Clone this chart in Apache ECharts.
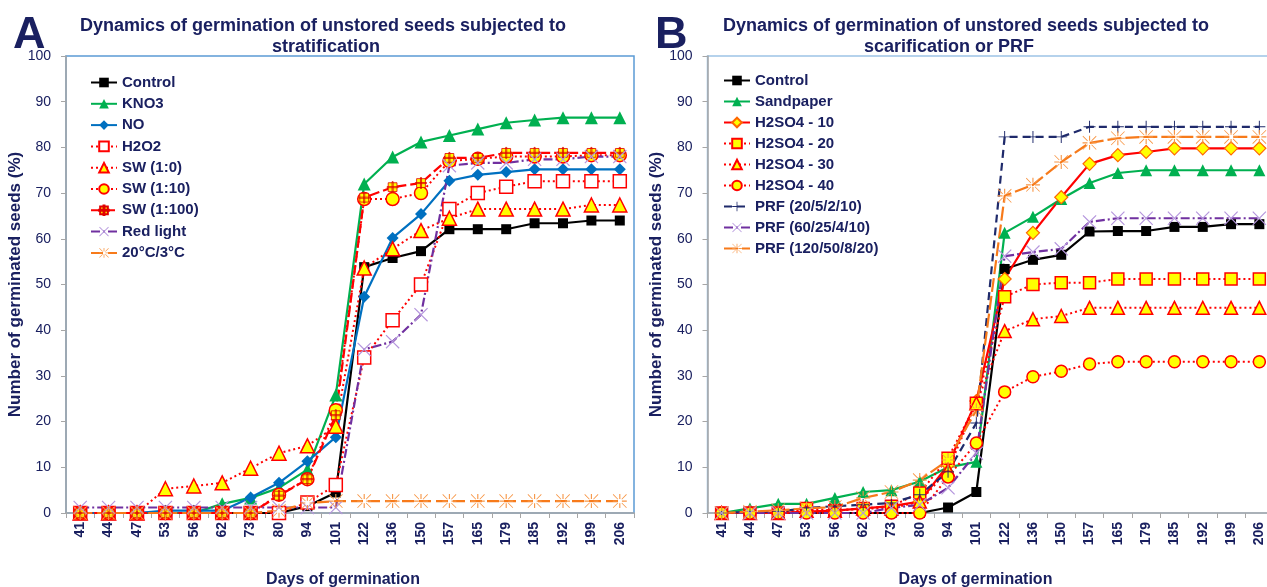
<!DOCTYPE html>
<html><head><meta charset="utf-8">
<script src="https://cdn.jsdelivr.net/npm/echarts@6/dist/echarts.min.js"></script>
<style>html,body{margin:0;padding:0;background:#fff;overflow:hidden}#c{width:1267px;height:587px}</style>
</head><body><div id="c"></div>
<script>
// ---------- data ----------
const categories = ['41','44','47','53','56','62','73','80','94','101','122','136','150','157','165','179','185','192','199','206'];
const yTicks = [0,10,20,30,40,50,60,70,80,90,100];

// Panel A
const A_control = [0,0,0,0,0,0,0,0,1.5,4.5,53.8,55.8,57.3,62.1,62.1,62.1,63.4,63.4,64,64];
const A_kno3    = [0,0,0,0,0,2,3.3,5.5,9.5,25.8,72,77.9,81.2,82.6,84,85.4,86,86.5,86.5,86.5];
const A_no      = [0,0,0,0.5,0.5,0.5,3.4,6.6,11.3,16.6,47.3,60.2,65.4,72.7,74,74.6,75.2,75.2,75.2,75.2];
const A_h2o2    = [0,0,0,0,0,0,0,0,2.3,6.1,34,42.2,50,66.5,70,71.4,72.6,72.6,72.6,72.6];
const A_sw1_0   = [0,0,0,5.3,5.9,6.6,9.8,13.1,14.7,19,53.6,57.8,61.8,64.5,66.5,66.5,66.5,66.5,67.4,67.4];
const A_sw1_10  = [0,0,0,0,0,0,0,4,7.4,22.5,68.7,68.7,70,77,77.5,78,78,78,78.3,78.3];
const A_sw1_100 = [0,0,0,0,0,0,0,3.8,7.4,21.4,69,71.3,72.2,77.7,77.7,78.8,78.8,78.8,78.8,78.8];
const A_red     = [1.2,1.2,1.2,1.2,1.2,1.2,1.2,1.2,1.2,1.2,35.8,37.5,43.4,76,76.6,76.6,77.4,77.4,78,78];
const A_temp    = [0,0,0,0,0,0,0,0.5,2.2,2.6,2.6,2.6,2.6,2.6,2.6,2.6,2.6,2.6,2.6,2.6];

// Panel B
const B_control = [0,0,0,0,0,0,0,0,1.2,4.6,53.4,55.4,56.5,61.6,61.7,61.7,62.6,62.6,63.2,63.2];
const B_sand    = [0,1,2,2,3.3,4.6,5,6.9,10,11.2,61.3,64.8,68.7,72.2,74.4,75,75,75,75,75];
const B_h10     = [0,0,0,0.3,0.5,1,1.5,2.5,10.5,24.5,51.2,61.3,69.1,76.4,78.3,79,79.8,79.8,79.8,79.8];
const B_h20     = [0,0,0,1,0.5,1,1.5,4.4,12,24,47.3,50,50.4,50.4,51.2,51.2,51.2,51.2,51.2,51.2];
const B_h30     = [0,0,0,0.5,0.5,1,1,2.5,9.4,24,39.8,42.4,43.1,44.9,44.9,44.9,44.9,44.9,44.9,44.9];
const B_h40     = [0,0,0,0,0,0,0,0,7.9,15.3,26.5,29.8,31,32.6,33.1,33.1,33.1,33.1,33.1,33.1];
const B_prf1    = [0,0.3,0.3,1.1,1.5,1.8,2.2,4,9,19.7,82.3,82.3,82.3,84.5,84.5,84.5,84.5,84.5,84.5,84.5];
const B_prf2    = [0,0,0,0,0,0,1.1,1.8,5.5,13.1,56.2,57.1,57.8,63.7,64.5,64.5,64.5,64.5,64.5,64.5];
const B_prf3    = [0,0.3,0.6,1,1.3,3.3,4.6,7.2,11.6,22.5,69.4,71.8,76.8,81,82,82.3,82.3,82.3,82.3,82.3];

// ---------- styles ----------
const NAVY = '#1a2060';
const FONT = '"Liberation Sans", Arial, sans-serif';
const P_PLUS_THIN = 'path://M4.6,0H5.4V4.6H10V5.4H5.4V10H4.6V5.4H0V4.6H4.6Z';
const P_X = 'path://M0,0.6L0.6,0L5,4.4L9.4,0L10,0.6L5.6,5L10,9.4L9.4,10L5,5.6L0.6,10L0,9.4L4.4,5Z';
const P_STAR = 'path://M4.6,0H5.4V3.5H4.6Z M4.6,6.5H5.4V10H4.6Z M0,4.6H3.5V5.4H0Z M6.5,4.6H10V5.4H6.5Z M0.4,0L3.8,3.4L3.4,3.8L0,0.4Z M6.2,6.6L6.6,6.2L10,9.6L9.6,10Z M9.6,0L10,0.4L6.6,3.8L6.2,3.4Z M0,9.6L3.4,6.2L3.8,6.6L0.4,10Z';
const P_SQPLUS = 'path://M1,1H9V9H1Z M4.5,0H5.5V10H4.5Z M0,4.5H10V5.5H0Z';

function ser(name, data, gi, o) {
  return Object.assign({
    name, type:'line', data, xAxisIndex:gi, yAxisIndex:gi,
    showSymbol:true, animation:false, z: 2,
    emphasis:{disabled:true}
  }, o);
}
const solid = (c,w)=>({color:c, width:w||2.2, type:'solid'});

const series = [
  // ---- Panel A ----
  ser('Control', A_control, 0, {symbol:'rect', symbolSize:10, lineStyle:solid('#000'), itemStyle:{color:'#000'}}),
  ser('KNO3', A_kno3, 0, {symbol:'triangle', symbolSize:13, lineStyle:solid('#00b050'), itemStyle:{color:'#00b050'}}),
  ser('NO', A_no, 0, {symbol:'diamond', symbolSize:12, lineStyle:solid('#0070c0'), itemStyle:{color:'#0070c0'}}),
  ser('H2O2', A_h2o2, 0, {symbol:'rect', symbolSize:13, lineStyle:{color:'#ff0000',width:2,type:[2,3]}, itemStyle:{color:'#ffffff',borderColor:'#ff0000',borderWidth:1.5}}),
  ser('SW (1:0)', A_sw1_0, 0, {symbol:'triangle', symbolSize:14, lineStyle:{color:'#ff0000',width:2,type:[2,3]}, itemStyle:{color:'#ffff00',borderColor:'#ff0000',borderWidth:1.5}}),
  ser('SW (1:10)', A_sw1_10, 0, {symbol:'circle', symbolSize:13, lineStyle:{color:'#ff0000',width:2,type:[2,3]}, itemStyle:{color:'#ffff00',borderColor:'#ff0000',borderWidth:1.5}}),
  ser('SW (1:100)', A_sw1_100, 0, {symbol:P_SQPLUS, symbolSize:11, lineStyle:{color:'#ff0000',width:2.2,type:[10,4]}, itemStyle:{color:'#ffff00',borderColor:'#e00000',borderWidth:0.8}}),
  ser('Red light', A_red, 0, {symbol:P_X, symbolSize:14, lineStyle:{color:'#7030a0',width:2.2,type:[9,3,2,3]}, itemStyle:{color:'#b596dd'}}),
  ser('20°C/3°C', A_temp, 0, {symbol:P_STAR, symbolSize:14, lineStyle:{color:'#f77a1a',width:2.2,type:[12,5]}, itemStyle:{color:'#f79646'}}),
  // ---- Panel B ----
  ser('Control', B_control, 1, {symbol:'rect', symbolSize:10, lineStyle:solid('#000'), itemStyle:{color:'#000'}}),
  ser('Sandpaper', B_sand, 1, {symbol:'triangle', symbolSize:12, lineStyle:solid('#00b050'), itemStyle:{color:'#00b050'}}),
  ser('H2SO4 - 10', B_h10, 1, {symbol:'diamond', symbolSize:13, lineStyle:solid('#ff0000'), itemStyle:{color:'#ffff00',borderColor:'#ff6600',borderWidth:1.2}}),
  ser('H2SO4 - 20', B_h20, 1, {symbol:'rect', symbolSize:12, lineStyle:{color:'#ff0000',width:2,type:[2,3]}, itemStyle:{color:'#ffff00',borderColor:'#ff0000',borderWidth:1.5}}),
  ser('H2SO4 - 30', B_h30, 1, {symbol:'triangle', symbolSize:13, lineStyle:{color:'#ff0000',width:2,type:[2,3]}, itemStyle:{color:'#ffff00',borderColor:'#ff0000',borderWidth:1.5}}),
  ser('H2SO4 - 40', B_h40, 1, {symbol:'circle', symbolSize:12, lineStyle:{color:'#ff0000',width:2,type:[2,3]}, itemStyle:{color:'#ffff00',borderColor:'#ff0000',borderWidth:1.5}}),
  ser('PRF (20/5/2/10)', B_prf1, 1, {symbol:P_PLUS_THIN, symbolSize:12, lineStyle:{color:'#1f2a6b',width:2.2,type:[8,5]}, itemStyle:{color:'#1f2a6b'}}),
  ser('PRF (60/25/4/10)', B_prf2, 1, {symbol:P_X, symbolSize:14, lineStyle:{color:'#7030a0',width:2.2,type:[9,3,2,3]}, itemStyle:{color:'#b596dd'}}),
  ser('PRF (120/50/8/20)', B_prf3, 1, {symbol:P_STAR, symbolSize:14, lineStyle:{color:'#f77a1a',width:2.2,type:[14,4]}, itemStyle:{color:'#f79646'}})
];

function xAx(gi, shift){
  return {
    type:'category', gridIndex:gi, data:categories, boundaryGap:true,
    name:'Days of germination', nameLocation:'middle', nameGap:59,
    nameTextStyle:{fontSize:16, fontWeight:'bold', color:NAVY, fontFamily:FONT, padding:[0, shift, 0, 0]},
    axisLine:{show:true, lineStyle:{color:'#a6a6a6', width:1.5}},
    axisTick:{show:true, length:5, lineStyle:{color:'#a6a6a6'}},
    axisLabel:{rotate:90, fontSize:14, fontWeight:'bold', color:NAVY, fontFamily:FONT, margin:9, interval:0},
    splitLine:{show:false}
  };
}
function yAx(gi){
  return {
    type:'value', gridIndex:gi, min:yTicks[0], max:yTicks[yTicks.length-1], interval:10,
    name:'Number of germinated seeds (%)', nameLocation:'middle', nameGap:38, nameRotate:90,
    nameTextStyle:{fontSize:17, fontWeight:'bold', color:NAVY, fontFamily:FONT},
    axisLine:{show:true, lineStyle:{color:'#a6a6a6', width:1.5}},
    axisTick:{show:true, length:5, lineStyle:{color:'#a6a6a6'}},
    axisLabel:{fontSize:14, color:NAVY, fontFamily:FONT, margin:15},
    splitLine:{show:false}
  };
}
const legendText = {fontSize:15, fontWeight:'bold', color:NAVY, fontFamily:FONT};

const option = {
  animation:false,
  backgroundColor:'#ffffff',
  textStyle:{fontFamily:FONT},
  title:[
    {text:'A', left:8, top:8, textStyle:{fontSize:45, fontWeight:'bold', color:NAVY, fontFamily:FONT}},
    {text:'Dynamics of germination of unstored seeds subjected to', left:318, textAlign:'center', top:12, textStyle:{fontSize:18, fontWeight:'bold', color:NAVY, fontFamily:FONT}},
    {text:'stratification', left:321, textAlign:'center', top:33, textStyle:{fontSize:18, fontWeight:'bold', color:NAVY, fontFamily:FONT}},
    {text:'B', left:650, top:8, textStyle:{fontSize:45, fontWeight:'bold', color:NAVY, fontFamily:FONT}},
    {text:'Dynamics of germination of unstored seeds subjected to', left:961, textAlign:'center', top:12, textStyle:{fontSize:18, fontWeight:'bold', color:NAVY, fontFamily:FONT}},
    {text:'scarification or PRF', left:944, textAlign:'center', top:33, textStyle:{fontSize:18, fontWeight:'bold', color:NAVY, fontFamily:FONT}}
  ],
  grid:[
    {left:66, top:56, width:568, height:457, show:true, borderColor:'#5b9bd5', borderWidth:1.5, backgroundColor:'transparent', containLabel:false, outerBoundsMode:'none'},
    {left:707.5, top:56, width:566, height:457, show:true, borderColor:'#9dc3e6', borderWidth:1.5, backgroundColor:'transparent', containLabel:false, outerBoundsMode:'none'}
  ],
  xAxis:[xAx(0, 14), xAx(1, 30)],
  yAxis:[yAx(0), yAx(1)],
  legend:[
    {orient:'vertical', left:85, top:70, itemWidth:26, itemHeight:12, itemGap:6.3, textStyle:legendText, selectedMode:false,
     data:['Control','KNO3','NO','H2O2','SW (1:0)','SW (1:10)','SW (1:100)','Red light','20°C/3°C']},
    {orient:'vertical', left:718, top:68, itemWidth:26, itemHeight:12, itemGap:6, textStyle:legendText, selectedMode:false,
     data:['Control','Sandpaper','H2SO4 - 10','H2SO4 - 20','H2SO4 - 30','H2SO4 - 40','PRF (20/5/2/10)','PRF (60/25/4/10)','PRF (120/50/8/20)']}
  ],
  series
};
const chart = echarts.init(document.getElementById('c'), null, {renderer:'canvas'});
chart.setOption(option);
</script>
</body></html>
